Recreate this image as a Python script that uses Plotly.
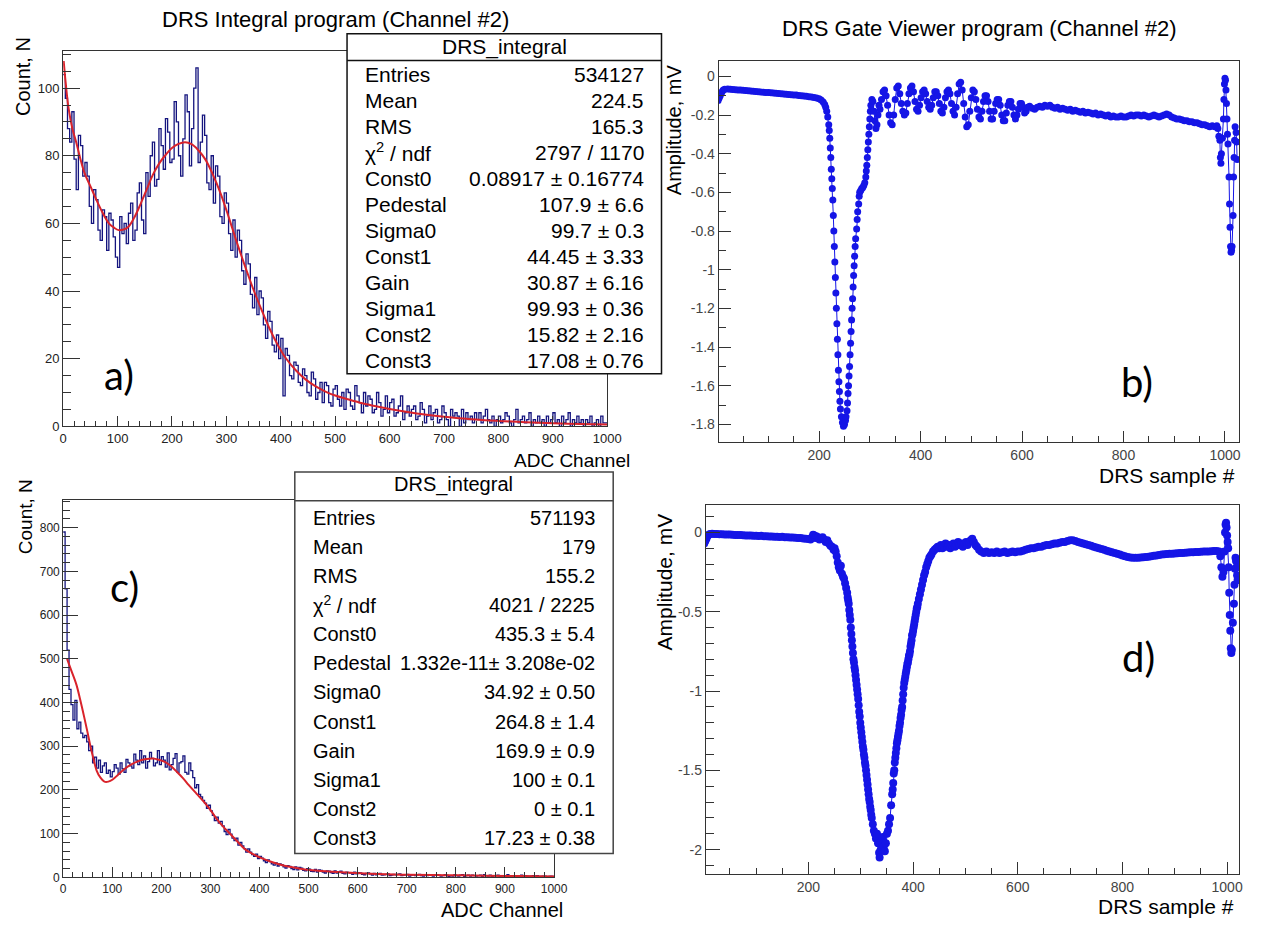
import plotly.graph_objects as go

W, H = 1264, 930

# ---------------- panel a: DRS_integral histogram (channel #2), 4-channel bins ----------------
BIN_W = 4
hist_a = [
    104, 97, 88, 84, 93, 79, 70, 86, 83, 74,
    78, 74, 65, 60, 70, 67, 58, 55, 64, 62,
    52, 63, 61, 56, 50, 47, 62, 57, 60, 54,
    63, 66, 55, 58, 69, 72, 61, 57, 75, 68,
    80, 84, 71, 73, 88, 83, 76, 91, 87, 78,
    79, 96, 90, 80, 74, 85, 98, 93, 77, 88,
    100, 106, 78, 84, 92, 86, 72, 70, 80, 66,
    77, 74, 62, 60, 69, 66, 57, 52, 61, 50,
    58, 55, 46, 42, 51, 48, 39, 35, 44, 33,
    40, 38, 30, 26, 34, 31, 24, 22, 27, 20,
    26, 9, 23, 21, 15, 14, 19, 18, 13, 12,
    17, 15, 10, 9, 16, 14, 8, 10, 13, 7,
    13, 12, 7, 6, 11, 12, 8, 6, 10, 5,
    11, 10, 6, 5, 12, 9, 7, 4, 10, 6,
    9, 8, 4, 5, 10, 7, 3, 5, 9, 4,
    7, 8, 3, 4, 6, 9, 2, 4, 6, 3,
    5, 6, 2, 3, 7, 5, 1, 3, 6, 2,
    4, 5, 1, 2, 6, 4, 2, 0, 5, 3,
    4, 3, 0, 5, 1, 4, 2, 3, 1, 4,
    2, 4, 1, 3, 5, 2, 1, 3, 0, 2,
    3, 1, 2, 4, 3, 1, 0, 2, 5, 1,
    2, 3, 1, 2, 4, 0, 2, 1, 3, 1,
    2, 0, 3, 1, 2, 4, 1, 2, 0, 3,
    1, 2, 4, 0, 2, 1, 3, 1, 2, 0,
    2, 1, 3, 0, 1, 2, 0, 3, 1, 1,
]

# fitted model, channel -> counts
fit_a = [
    (1, 108), (5, 101), (10, 94), (17, 88), (24, 84), (31, 79.5), (39, 75), (50, 71),
    (61, 67), (72, 63.3), (84, 60), (93, 58.8), (102, 58), (111, 58.2), (120, 59),
    (131, 61.8), (143, 66), (154, 70.2), (165, 74.4), (176, 77.6), (187, 80), (200, 82.3),
    (212, 83.5), (224, 84), (236, 83.4), (248, 81.7), (261, 79), (275, 74.5), (290, 68.6),
    (305, 61.5), (320, 54), (335, 47), (350, 40.3), (365, 34.3), (379, 29), (394, 24.2),
    (409, 20.2), (428, 16.5), (446, 13.8), (465, 11.7), (483, 10.2), (500, 9.1), (525, 7.9),
    (550, 6.8), (575, 5.9), (600, 5.1), (650, 3.8), (700, 2.8), (750, 2.1), (800, 1.6),
    (850, 1.2), (900, 0.9), (950, 0.7), (1000, 0.55),
]

stat_labels = ["Entries", "Mean", "RMS", "\u03c7<sup>2</sup> / ndf", "Const0", "Pedestal",
               "Sigma0", "Const1", "Gain", "Sigma1", "Const2", "Const3"]
stat_values_a = ["534127", "224.5", "165.3", "2797 / 1170", "0.08917 \u00b1 0.16774",
                 "107.9 \u00b1 6.6", "99.7 \u00b1 0.3", "44.45 \u00b1 3.33", "30.87 \u00b1 6.16",
                 "99.93 \u00b1 0.36", "15.82 \u00b1 2.16", "17.08 \u00b1 0.76"]

# ---------------- panel c: DRS_integral histogram, second run ----------------
hist_c = [
    790, 660, 520, 430, 395, 360, 405, 340, 355, 330,
    320, 325, 310, 290, 300, 262, 275, 250, 268, 240,
    255, 262, 238, 245, 230, 242, 258, 250, 236, 262,
    248, 240, 270, 262, 255, 250, 282, 268, 258, 290,
    262, 278, 250, 265, 286, 272, 255, 262, 290, 258,
    276, 268, 252, 285, 246, 258, 272, 283, 240, 262,
    265, 278, 240, 236, 262, 244, 228, 205, 212, 190,
    184, 176, 170, 158, 165, 152, 142, 130, 138, 124,
    128, 118, 105, 98, 110, 99, 90, 84, 90, 74,
    80, 72, 66, 58, 65, 58, 52, 48, 53, 43,
    48, 44, 38, 34, 40, 36, 31, 28, 33, 26,
    31, 29, 24, 21, 27, 25, 20, 18, 24, 17,
    23, 21, 16, 15, 20, 19, 14, 13, 18, 12,
    17, 16, 12, 10, 15, 14, 11, 9, 15, 10,
    13, 14, 9, 8, 12, 11, 10, 7, 12, 8,
    11, 10, 7, 6, 9, 10, 8, 5, 9, 6,
    8, 9, 5, 6, 7, 8, 4, 5, 7, 6,
    7, 8, 4, 5, 6, 7, 3, 5, 6, 4,
    6, 7, 4, 3, 6, 4, 5, 6, 3, 5,
    6, 5, 3, 4, 6, 5, 2, 4, 3, 6,
    4, 3, 5, 6, 2, 4, 5, 3, 5, 4,
    3, 4, 5, 2, 6, 4, 3, 5, 2, 4,
    4, 5, 2, 3, 4, 2, 6, 3, 4, 3,
    2, 3, 4, 5, 2, 4, 3, 2, 3, 4,
    3, 4, 2, 2, 3, 3, 1, 2, 3, 2,
]

fit_c = [
    (8, 500), (15, 478), (27, 441), (35, 405), (43, 366), (50, 330), (56, 298), (62, 270),
    (68, 245), (76, 228), (84, 219), (92, 219), (101, 224), (112, 235), (125, 248), (140, 259),
    (158, 268), (170, 271), (183, 272), (195, 269), (207, 264), (220, 254), (232, 241),
    (244, 227), (256, 211), (272, 191), (289, 170), (302, 151), (314, 132), (326, 116),
    (338, 102), (355, 82), (371, 64), (387, 53), (404, 44), (428, 34), (453, 26), (478, 21),
    (502, 17), (540, 13.5), (576, 11), (640, 8), (699, 6), (780, 5), (862, 4), (930, 3),
    (1000, 2.2),
]

stat_values_c = ["571193", "179", "155.2", "4021 / 2225", "435.3 \u00b1 5.4",
                 "1.332e-11\u00b1 3.208e-02", "34.92 \u00b1 0.50", "264.8 \u00b1 1.4",
                 "169.9 \u00b1 0.9", "100 \u00b1 0.1", "0 \u00b1 0.1", "17.23 \u00b1 0.38"]

# ---------------- panel b: gate viewer waveform (sample #, amplitude mV) ----------------
wave_b = [
    (1, -0.125), (3, -0.112), (5, -0.1), (7, -0.088), (9, -0.078), (11, -0.071), (14, -0.067),
    (20, -0.066), (25, -0.067), (30, -0.068), (35, -0.069), (40, -0.07), (45, -0.071),
    (50, -0.072), (55, -0.073), (60, -0.075), (65, -0.076), (70, -0.077), (75, -0.078),
    (80, -0.079), (85, -0.081), (90, -0.082), (95, -0.083), (100, -0.084), (105, -0.085),
    (110, -0.086), (115, -0.088), (120, -0.089), (125, -0.09), (130, -0.091), (135, -0.092),
    (140, -0.094), (145, -0.095), (150, -0.096), (155, -0.097), (160, -0.099), (165, -0.1),
    (170, -0.101), (175, -0.103), (180, -0.105), (185, -0.107), (190, -0.109), (195, -0.112),
    (200, -0.116), (204, -0.122), (208, -0.132), (211, -0.145), (213, -0.16), (215, -0.18),
    (217, -0.21), (219, -0.25), (220, -0.28), (221, -0.32), (222, -0.37), (223, -0.42),
    (224, -0.48), (225, -0.53), (226, -0.58), (227, -0.64), (228, -0.72), (229, -0.8),
    (230, -0.88), (231, -0.96), (232, -1.04), (233, -1.12), (234, -1.2), (235, -1.28),
    (236, -1.36), (237, -1.44), (238, -1.52), (239, -1.58), (240, -1.63), (241, -1.68),
    (242, -1.72), (244, -1.76), (246, -1.79), (248, -1.81), (250, -1.8), (252, -1.78),
    (253, -1.76), (255, -1.73), (256, -1.69), (257, -1.64), (258, -1.6), (259, -1.55),
    (260, -1.5), (261, -1.44), (262, -1.38), (263, -1.32), (264, -1.26), (265, -1.2),
    (266, -1.15), (267, -1.09), (268, -1.03), (269, -0.98), (270, -0.93), (271, -0.88),
    (272, -0.84), (274, -0.79), (275, -0.74), (276, -0.7), (278, -0.66), (279, -0.62),
    (280, -0.6), (282, -0.59), (284, -0.58), (286, -0.575), (288, -0.565), (290, -0.55),
    (292, -0.52), (293, -0.49), (294, -0.46), (295, -0.42), (296, -0.38), (297, -0.34),
    (298, -0.3), (299, -0.26), (300, -0.22), (301, -0.18), (302, -0.15), (304, -0.12),
    (306, -0.13), (308, -0.18), (310, -0.23), (312, -0.27), (314, -0.25), (316, -0.2),
    (318, -0.15),
    (320, -0.17), (323, -0.12), (326, -0.08), (329, -0.07), (332, -0.1), (335, -0.15),
    (338, -0.2), (341, -0.24), (344, -0.25), (347, -0.2), (350, -0.12), (353, -0.06),
    (356, -0.05), (359, -0.09), (362, -0.14), (365, -0.18), (368, -0.2), (371, -0.19),
    (374, -0.14), (377, -0.09), (380, -0.06), (383, -0.05), (386, -0.08), (389, -0.13),
    (392, -0.17), (395, -0.18), (398, -0.15), (401, -0.11), (404, -0.08), (407, -0.07),
    (410, -0.09), (413, -0.13), (416, -0.16), (419, -0.17), (422, -0.15), (425, -0.11),
    (428, -0.08), (431, -0.08), (434, -0.1), (437, -0.14), (440, -0.18), (443, -0.19),
    (446, -0.16), (449, -0.11), (452, -0.08), (455, -0.07), (458, -0.09), (461, -0.14),
    (464, -0.18), (467, -0.2), (470, -0.16), (473, -0.09), (476, -0.04), (479, -0.03),
    (482, -0.07), (485, -0.14), (488, -0.21), (491, -0.26), (494, -0.25), (497, -0.18),
    (500, -0.11), (503, -0.07), (506, -0.08), (509, -0.12), (512, -0.17), (515, -0.21),
    (518, -0.22), (521, -0.18), (524, -0.13), (527, -0.1), (530, -0.1), (533, -0.13),
    (536, -0.18), (539, -0.22), (542, -0.22), (545, -0.18), (548, -0.14), (551, -0.12),
    (554, -0.12), (557, -0.15), (560, -0.2), (563, -0.23), (566, -0.23), (569, -0.19),
    (572, -0.15), (575, -0.13), (578, -0.13), (581, -0.16), (584, -0.2), (587, -0.22),
    (590, -0.2), (593, -0.17), (596, -0.14), (599, -0.14), (602, -0.16), (605, -0.19),
    (608, -0.18), (611, -0.16),
    (615, -0.155), (620, -0.165), (625, -0.17), (630, -0.16), (635, -0.155), (640, -0.16),
    (645, -0.15), (650, -0.155), (655, -0.15), (660, -0.16), (665, -0.165), (670, -0.16),
    (675, -0.17), (680, -0.165), (685, -0.17), (690, -0.175), (695, -0.17), (700, -0.18),
    (705, -0.175), (710, -0.18), (715, -0.185), (720, -0.18), (725, -0.19), (730, -0.185),
    (735, -0.19), (740, -0.195), (745, -0.19), (750, -0.2), (755, -0.195), (760, -0.2),
    (765, -0.205), (770, -0.2), (775, -0.21), (780, -0.205), (785, -0.21), (790, -0.21),
    (795, -0.205), (800, -0.21), (805, -0.21), (810, -0.205), (815, -0.2), (820, -0.205),
    (825, -0.2), (830, -0.2), (835, -0.205), (840, -0.2), (845, -0.205), (850, -0.21),
    (855, -0.205), (860, -0.2), (865, -0.205), (870, -0.21), (875, -0.205), (880, -0.2),
    (885, -0.195), (890, -0.2), (895, -0.21), (900, -0.215), (905, -0.22), (910, -0.22),
    (915, -0.225), (920, -0.23), (925, -0.23), (930, -0.235), (935, -0.235), (940, -0.24),
    (945, -0.24), (950, -0.245), (955, -0.25), (960, -0.25), (965, -0.255), (970, -0.26),
    (975, -0.255), (980, -0.26),
    (984, -0.255), (986, -0.27), (988, -0.31), (990, -0.33), (991, -0.42), (992, -0.45),
    (993, -0.4), (995, -0.32), (997, -0.22), (998, -0.12), (999, -0.04), (1000, -0.01),
    (1001, -0.02), (1002, -0.07), (1003, -0.14), (1004, -0.22), (1005, -0.3), (1006, -0.35),
    (1008, -0.52), (1009, -0.66), (1010, -0.78), (1011, -0.88), (1012, -0.91), (1013, -0.9),
    (1014, -0.88), (1016, -0.72), (1017, -0.52), (1018, -0.42), (1019, -0.33), (1020, -0.26),
    (1022, -0.29), (1023, -0.34), (1024, -0.43),
]

# ---------------- panel d: gate viewer waveform, second run ----------------
wave_d = [
    (1, -0.07), (3, -0.055), (5, -0.04), (7, -0.025), (9, -0.015), (12, -0.01),
    (16, -0.008), (20, -0.01), (25, -0.01), (30, -0.012), (35, -0.011), (40, -0.013),
    (45, -0.014), (50, -0.013), (55, -0.015), (60, -0.016), (65, -0.017), (70, -0.016),
    (75, -0.018), (80, -0.019), (85, -0.02), (90, -0.02), (95, -0.021), (100, -0.022),
    (105, -0.023), (110, -0.022), (115, -0.024), (120, -0.025), (125, -0.026), (130, -0.026),
    (135, -0.027), (140, -0.028), (145, -0.029), (150, -0.028), (155, -0.03), (160, -0.031),
    (165, -0.032), (170, -0.033), (175, -0.034), (180, -0.035), (185, -0.036), (190, -0.038),
    (195, -0.04), (200, -0.042), (204, -0.045), (207, -0.03), (209, -0.015), (211, -0.02),
    (213, -0.035), (215, -0.025), (218, -0.03), (221, -0.045), (224, -0.035), (227, -0.03),
    (230, -0.045), (233, -0.06), (236, -0.05), (239, -0.07), (242, -0.085), (245, -0.09),
    (248, -0.11), (250, -0.1), (252, -0.12), (254, -0.15), (256, -0.19), (258, -0.22),
    (260, -0.24), (262, -0.21), (264, -0.26), (266, -0.28), (268, -0.29), (270, -0.32),
    (272, -0.35), (274, -0.38), (275, -0.41), (276, -0.43), (277, -0.45), (278, -0.49),
    (279, -0.52), (280, -0.55), (281, -0.6), (282, -0.64), (283, -0.68), (284, -0.72),
    (285, -0.76), (286, -0.8), (287, -0.82), (288, -0.85), (289, -0.87), (290, -0.9),
    (291, -0.93), (292, -0.96), (293, -0.99), (294, -1.02), (295, -1.05), (296, -1.09),
    (297, -1.13), (298, -1.16), (299, -1.2), (300, -1.23), (301, -1.26), (302, -1.29),
    (303, -1.32), (304, -1.35), (305, -1.37), (306, -1.4), (307, -1.42), (308, -1.45),
    (309, -1.47), (310, -1.5), (311, -1.53), (312, -1.56), (313, -1.59), (314, -1.62),
    (315, -1.65), (316, -1.68), (317, -1.7), (318, -1.73), (319, -1.75), (320, -1.78),
    (321, -1.8), (323, -1.84), (325, -1.88), (327, -1.9), (329, -1.93), (331, -1.9),
    (333, -1.96), (335, -2.02), (336, -2.05), (338, -2.0), (340, -1.95), (342, -1.92),
    (344, -1.98), (346, -2.01), (348, -1.96), (350, -1.9), (352, -1.88), (354, -1.84),
    (356, -1.8), (358, -1.72), (360, -1.65), (361, -1.62), (362, -1.58), (363, -1.52),
    (364, -1.5), (365, -1.45), (366, -1.42), (367, -1.39), (368, -1.36), (369, -1.33),
    (370, -1.31), (371, -1.29), (372, -1.27), (373, -1.25), (374, -1.22), (375, -1.2),
    (376, -1.17), (377, -1.15), (378, -1.12), (379, -1.1), (380, -1.06), (381, -1.02),
    (382, -0.98), (383, -0.95), (384, -0.93), (385, -0.91), (386, -0.89), (387, -0.87),
    (388, -0.85), (389, -0.83), (390, -0.82), (391, -0.8), (392, -0.78), (393, -0.77),
    (394, -0.75), (395, -0.72), (396, -0.7), (397, -0.68), (398, -0.65), (399, -0.64),
    (400, -0.62), (401, -0.6), (402, -0.58), (403, -0.56), (404, -0.54), (405, -0.52),
    (406, -0.5), (407, -0.48), (408, -0.47), (409, -0.45), (411, -0.42), (413, -0.39),
    (415, -0.36), (417, -0.33), (419, -0.3), (421, -0.27), (423, -0.25), (425, -0.22),
    (427, -0.2), (429, -0.18), (431, -0.16), (433, -0.15), (435, -0.14), (438, -0.12),
    (441, -0.11), (444, -0.1), (447, -0.09), (450, -0.1), (453, -0.08), (456, -0.1),
    (459, -0.09), (462, -0.07), (465, -0.09), (468, -0.08), (471, -0.1), (474, -0.08),
    (477, -0.07), (480, -0.09), (483, -0.08), (486, -0.06), (489, -0.08), (492, -0.07),
    (495, -0.09), (498, -0.07), (501, -0.06), (504, -0.08), (507, -0.06), (510, -0.05),
    (513, -0.04), (516, -0.06), (519, -0.08), (522, -0.09), (526, -0.11), (530, -0.12),
    (535, -0.13), (540, -0.12), (545, -0.13), (550, -0.125), (555, -0.13), (560, -0.12),
    (565, -0.13), (570, -0.125), (575, -0.12), (580, -0.13), (585, -0.125), (590, -0.12),
    (595, -0.125), (600, -0.12), (605, -0.12), (610, -0.115), (615, -0.11), (620, -0.105),
    (625, -0.1), (630, -0.1), (635, -0.095), (640, -0.09), (645, -0.09), (650, -0.085),
    (655, -0.08), (660, -0.08), (665, -0.075), (670, -0.07), (675, -0.07), (680, -0.065),
    (685, -0.06), (690, -0.06), (695, -0.055), (700, -0.05), (705, -0.05), (710, -0.055),
    (715, -0.06), (720, -0.065), (725, -0.07), (730, -0.075), (735, -0.08), (740, -0.085),
    (745, -0.09), (750, -0.095), (755, -0.1), (760, -0.105), (765, -0.11), (770, -0.115),
    (775, -0.12), (780, -0.125), (785, -0.13), (790, -0.135), (795, -0.14), (800, -0.145),
    (805, -0.15), (810, -0.155), (815, -0.158), (820, -0.16), (825, -0.16), (830, -0.16),
    (835, -0.158), (840, -0.157), (845, -0.155), (850, -0.153), (855, -0.15), (860, -0.148),
    (865, -0.145), (870, -0.142), (875, -0.14), (880, -0.138), (885, -0.136), (890, -0.135),
    (895, -0.134), (900, -0.133), (905, -0.132), (910, -0.13), (915, -0.13), (920, -0.128),
    (925, -0.127), (930, -0.126), (935, -0.125), (940, -0.124), (945, -0.123), (950, -0.122),
    (955, -0.121), (960, -0.12), (965, -0.12), (970, -0.119), (975, -0.118), (980, -0.118),
    (985, -0.12), (987, -0.15), (989, -0.22), (991, -0.28), (993, -0.25), (995, -0.12),
    (996, 0.0), (997, 0.05), (998, 0.06), (999, 0.03), (1000, -0.02), (1001, -0.06),
    (1002, -0.1), (1003, -0.22), (1004, -0.38), (1005, -0.52), (1006, -0.62), (1007, -0.73),
    (1008, -0.76), (1009, -0.74), (1011, -0.57), (1013, -0.45), (1014, -0.33), (1015, -0.23),
    (1016, -0.16), (1017, -0.18), (1018, -0.22), (1019, -0.27), (1020, -0.3),
]

# tick labels written the way ROOT prints them (ASCII hyphen)
b_ytick_vals = [0, -0.2, -0.4, -0.6, -0.8, -1, -1.2, -1.4, -1.6, -1.8]
b_ytick_text = ["0", "-0.2", "-0.4", "-0.6", "-0.8", "-1", "-1.2", "-1.4", "-1.6", "-1.8"]
d_ytick_vals = [0, -0.5, -1, -1.5, -2]
d_ytick_text = ["0", "-0.5", "-1", "-1.5", "-2"]

# ---------------- layout helpers (pixel -> paper) ----------------
FONT = "Liberation Sans, Arial, sans-serif"
LETTER_FONT = "Lato, Open Sans, sans-serif"


def px(x):
    return x / W


def py(y):
    return 1 - y / H


# frames in pixels: left, top, right, bottom
FRAME_A = (60, 51, 612, 430)
FRAME_B = (725, 62, 1253, 446)
FRAME_C = (60, 504, 558, 885)
FRAME_D = (712, 509, 1253, 882)


def xdom(f):
    return [px(f[0]), px(f[2])]


def ydom(f):
    return [py(f[3]), py(f[1])]


def axis(domain, rng, anchor, ticklen, minor_len, minor_dtick, font_size, color="#222",
         dtick=None, tickvals=None, ticktext=None, tick0=0):
    ax = dict(
        domain=domain, range=rng, anchor=anchor, showline=True, linecolor="#333",
        linewidth=1, mirror=True, ticks="inside", ticklen=ticklen, tickwidth=1,
        tickcolor="#333", showgrid=False, zeroline=False, fixedrange=True,
        tickfont=dict(family=FONT, size=font_size, color=color),
        minor=dict(ticks="inside", ticklen=minor_len, tickmode="linear", tick0=tick0,
                   dtick=minor_dtick, tickcolor="#333", tickwidth=1, showgrid=False),
    )
    if tickvals is not None:
        ax.update(tickmode="array", tickvals=tickvals, ticktext=ticktext)
    else:
        ax.update(tickmode="linear", tick0=tick0, dtick=dtick)
    return ax


fig = go.Figure()

HIST_COLOR = "#14147e"
FIT_COLOR = "#d9232b"
WAVE_COLOR = "#1515e6"


def hist_trace(values, xa, ya):
    edges = [i * BIN_W for i in range(len(values) + 1)]
    return go.Scatter(x=edges, y=values + [values[-1]], mode="lines",
                      line=dict(color=HIST_COLOR, width=1.3, shape="hv"),
                      xaxis=xa, yaxis=ya, hoverinfo="skip", showlegend=False)


def fit_trace(points, xa, ya):
    return go.Scatter(x=[p[0] for p in points], y=[p[1] for p in points], mode="lines",
                      line=dict(color=FIT_COLOR, width=2, shape="spline", smoothing=1),
                      xaxis=xa, yaxis=ya, hoverinfo="skip", showlegend=False)


def wave_trace(points, xa, ya, size):
    return go.Scatter(x=[p[0] for p in points], y=[p[1] for p in points],
                      mode="lines+markers",
                      line=dict(color=WAVE_COLOR, width=1),
                      marker=dict(color=WAVE_COLOR, size=size, line=dict(width=0)),
                      xaxis=xa, yaxis=ya, hoverinfo="skip", showlegend=False)


fig.add_trace(hist_trace(hist_a, "x", "y"))
fig.add_trace(fit_trace(fit_a, "x", "y"))
fig.add_trace(wave_trace(wave_b, "x2", "y2", 7))
fig.add_trace(hist_trace(hist_c, "x3", "y3"))
fig.add_trace(fit_trace(fit_c, "x3", "y3"))
fig.add_trace(wave_trace(wave_d, "x4", "y4", 8))

layout = dict(
    width=W, height=H, autosize=False,
    margin=dict(l=0, r=0, t=0, b=0),
    paper_bgcolor="white", plot_bgcolor="white",
    showlegend=False,
    xaxis=axis(xdom(FRAME_A), [0, 1000], "y", 10, 5, 20, 13, dtick=100),
    yaxis=axis(ydom(FRAME_A), [0, 111.1], "x", 17, 8, 5, 13, dtick=20),
    xaxis2=axis(xdom(FRAME_B), [2, 1028], "y2", 11, 6, 50, 14, color="#444", dtick=200),
    yaxis2=axis(ydom(FRAME_B), [-1.892, 0.077], "x2", 12, 7, 0.1, 14, color="#444",
                tickvals=b_ytick_vals, ticktext=b_ytick_text),
    xaxis3=axis(xdom(FRAME_C), [0, 1000], "y3", 10, 5, 20, 12, dtick=100),
    yaxis3=axis(ydom(FRAME_C), [0, 864], "x3", 15, 7, 20, 12, dtick=100),
    xaxis4=axis(xdom(FRAME_D), [4, 1023], "y4", 12, 6, 50, 14, color="#444", dtick=200),
    yaxis4=axis(ydom(FRAME_D), [-2.156, 0.175], "x4", 14, 8, 0.1, 14, color="#444",
                tickvals=d_ytick_vals, ticktext=d_ytick_text),
)

annotations = []
shapes = []


def note(text, x, y, size, xanchor="center", yanchor="middle", angle=0, color="black",
         family=FONT):
    annotations.append(dict(
        text=text, x=px(x), y=py(y), xref="paper", yref="paper", showarrow=False,
        xanchor=xanchor, yanchor=yanchor, textangle=angle,
        font=dict(family=family, size=size, color=color),
    ))


# titles
note("DRS Integral program (Channel #2)", 336, 20, 22)
note("DRS Gate Viewer program (Channel #2)", 990, 29, 22)

# axis titles
note("Count, N", 20, 77, 20, angle=-90)
note("ADC Channel", 637, 464, 19, xanchor="right")
note("Amplitude, mV", 680, 131, 20, angle=-90)
note("DRS sample #", 1251, 480, 21, xanchor="right")
note("Count, N", 22, 521, 19, angle=-90)
note("ADC Channel", 569, 918, 20, xanchor="right")
note("Amplitude, mV", 671, 587, 21, angle=-90)
note("DRS sample #", 1250, 914, 21, xanchor="right")

# panel letters
note("a)", 117, 378, 40, family=LETTER_FONT)
note("b)", 1149, 385, 40, family=LETTER_FONT)
note("c)", 122, 592, 40, family=LETTER_FONT)
note("d)", 1151, 663, 40, family=LETTER_FONT)


def stat_box(left, top, right, bottom, header_y, line_y, row0, row_step, values, size,
             label_x, value_x, border):
    shapes.append(dict(type="rect", xref="paper", yref="paper", x0=px(left), x1=px(right),
                       y0=py(bottom), y1=py(top), fillcolor="white",
                       line=dict(color=border, width=1.5), layer="above"))
    shapes.append(dict(type="line", xref="paper", yref="paper", x0=px(left), x1=px(right),
                       y0=py(line_y), y1=py(line_y), line=dict(color=border, width=1.5),
                       layer="above"))
    note("DRS_integral", (left + right) / 2, header_y, size)
    for i, (lab, val) in enumerate(zip(stat_labels, values)):
        y = row0 + row_step * i
        note(lab, label_x, y, size, xanchor="left")
        note(val, value_x, y, size, xanchor="right")


stat_box(348, 34, 667, 377, 47, 61, 75, 26.2, stat_values_a, 21, 364, 651, "#111")
stat_box(295, 476, 618, 861, 489, 505, 522, 29.4, stat_values_c, 20, 311, 602, "#444")

layout["annotations"] = annotations
layout["shapes"] = shapes
fig.update_layout(**layout)

fig.write_html("out.html")
